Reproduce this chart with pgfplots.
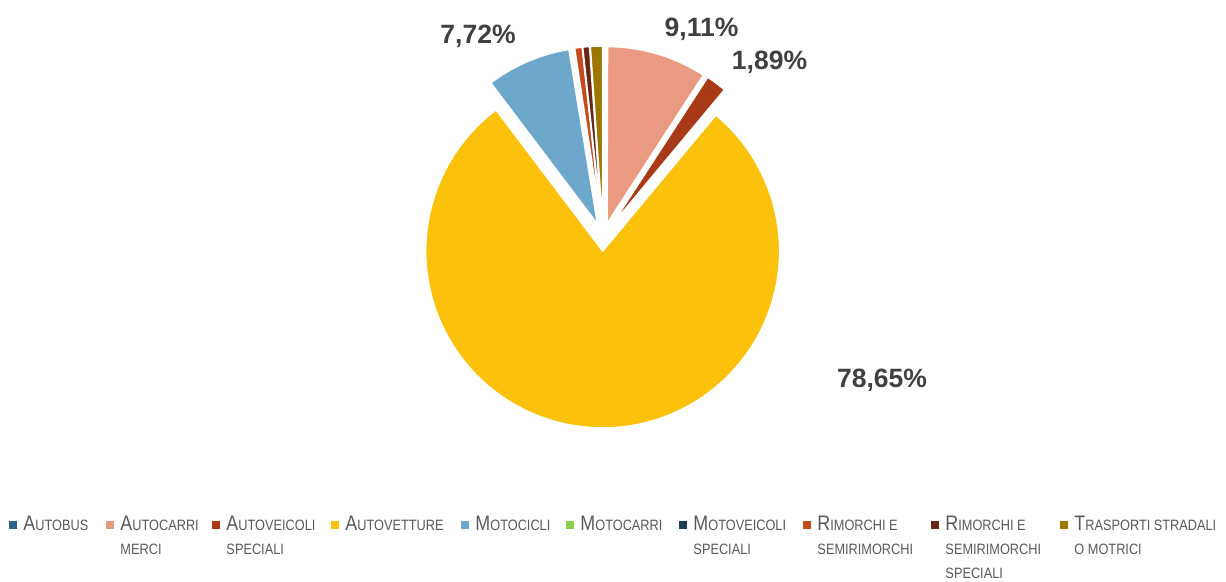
\documentclass[border=0pt]{standalone}
\usepackage{pgfplots}
\pgfplotsset{compat=1.18}
\usepackage{fontspec}
\setmainfont{Liberation Sans}
\newfontfamily\legfont[FakeStretch=0.85]{Liberation Sans}
\definecolor{cA}{HTML}{2E6286}
\definecolor{cB}{HTML}{EA9A80}
\definecolor{cC}{HTML}{A93A17}
\definecolor{cD}{HTML}{FCC10A}
\definecolor{cE}{HTML}{6DA8CC}
\definecolor{cF}{HTML}{8ECF4F}
\definecolor{cG}{HTML}{1E3F55}
\definecolor{cH}{HTML}{C54A1E}
\definecolor{cI}{HTML}{6B2614}
\definecolor{cJ}{HTML}{9C7700}
\definecolor{labcol}{HTML}{404040}
\definecolor{legcol}{HTML}{595959}
\newcommand\B[1]{{\fontsize{21}{24}\selectfont #1}}
\newcommand\cum{0}
\newcommand\slice[4]{%
  \pgfmathsetmacro\aA{90-3.6*\cum}%
  \pgfmathsetmacro\cumB{\cum+#2}%
  \pgfmathsetmacro\aB{90-3.6*\cumB}%
  \global\let\cum\cumB
  \pgfmathsetmacro\aM{(\aA+\aB)/2}%
  \pgfmathsetmacro\vx{603+14*cos(\aM)}%
  \pgfmathsetmacro\vy{344+14*sin(\aM)}%
  \edef\doit{\noexpand\addplot[fill=#1,draw=white,line width=1.5pt,domain=\aB:\aA,samples=100] ({\vx+177*cos(x)},{\vy+177*sin(x)}) -- (axis cs:\vx,\vy) -- cycle;}%
  \doit
  \addlegendentry{\parbox[t]{#3}{\raggedright\rule{0pt}{20pt}#4}}%
}
\begin{document}
\begin{tikzpicture}
\begin{axis}[
  at={(0,0)}, anchor=south west,
  x=1pt, y=1pt, xmin=0, xmax=1226, ymin=0, ymax=581,
  hide axis, clip=false,
  legend columns=10,
  legend image code/.code={\fill[#1,draw=none] (0pt,2pt) rectangle (8pt,10pt);},
  legend style={draw=none, fill=none, inner sep=0pt, outer sep=0pt,
    nodes={inner sep=0pt, outer sep=0pt, text depth=0pt},
    cells={anchor=base west},
    column sep=0pt,
    /tikz/every odd column/.append style={column sep=6.5pt},
    at={(axis cs:9,70)}, anchor=north west,
    font={\legfont\fontsize{15}{24}\selectfont}, text=legcol},
]
\slice{cA}{0.05}{82.5pt}{\B{A}UTOBUS}
\slice{cB}{9.11}{91.5pt}{\B{A}UTOCARRI\newline MERCI}
\slice{cC}{1.89}{104.5pt}{\B{A}UTOVEICOLI\newline SPECIALI}
\slice{cD}{78.65}{115.5pt}{\B{A}UTOVETTURE}
\slice{cE}{7.72}{90.5pt}{\B{M}OTOCICLI}
\slice{cF}{0.12}{98.5pt}{\B{M}OTOCARRI}
\slice{cG}{0.06}{109.5pt}{\B{M}OTOVEICOLI\newline SPECIALI}
\slice{cH}{0.68}{113.5pt}{\B{R}IMORCHI E\newline SEMIRIMORCHI}
\slice{cI}{0.62}{114.5pt}{\B{R}IMORCHI E\newline SEMIRIMORCHI\newline SPECIALI}
\slice{cJ}{1.10}{150pt}{\B{T}RASPORTI STRADALI\newline O MOTRICI}
\begin{scope}[every node/.style={font=\bfseries\fontsize{26.5}{30}\selectfont, text=labcol, anchor=base, inner sep=0pt}]
\node at (axis cs:701.5,544) {9,11\%};
\node at (axis cs:769.5,511) {1,89\%};
\node at (axis cs:478,537) {7,72\%};
\node at (axis cs:882,193) {78,65\%};
\end{scope}
\end{axis}
\pgfresetboundingbox
\useasboundingbox (0,0) rectangle (1226pt,581pt);
\end{tikzpicture}
\end{document}
